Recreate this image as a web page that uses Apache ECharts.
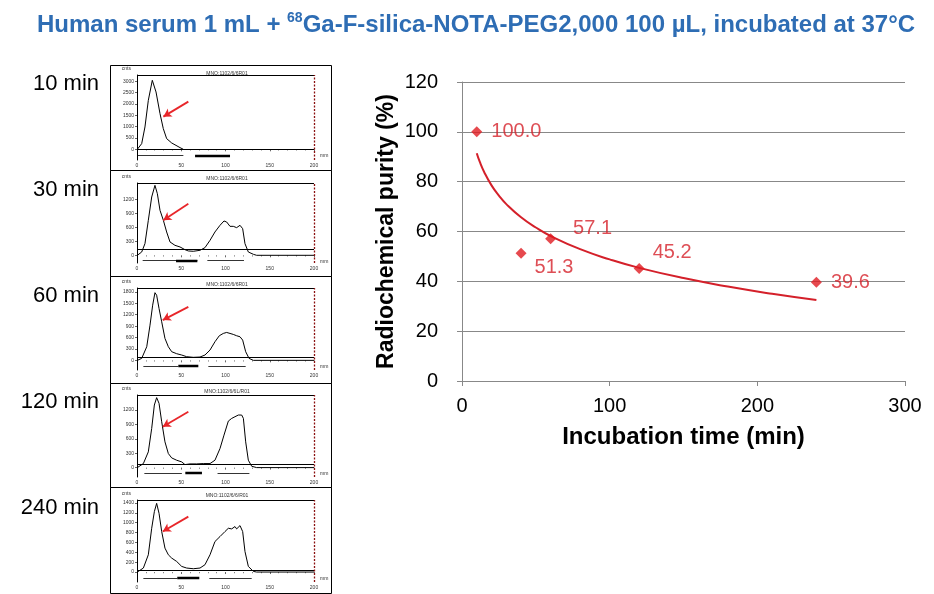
<!DOCTYPE html>
<html><head><meta charset="utf-8">
<script src="https://cdn.jsdelivr.net/npm/echarts@6/dist/echarts.min.js"></script>
<style>html,body{margin:0;padding:0;background:#fff}#c{width:934px;height:594px}</style>
</head><body><div id="c"></div>
<script>
// ---------- main chart data ----------
const incubationTimes = [10, 40, 60, 120, 240];
const purityValues = [100.0, 51.3, 57.1, 45.2, 39.6];
// logarithmic trend line
const trendTimes = [10, 12, 15, 20, 25, 30, 40, 50, 60, 80, 100, 120, 150, 180, 210, 240];
const trendValues = [91.4, 88.0, 83.9, 78.5, 74.4, 71.0, 65.7, 61.6, 58.2, 52.9, 48.8, 45.4, 41.3, 37.9, 35.0, 32.5];
const xTickValues = [0, 100, 200, 300];
const yTickValues = [0, 20, 40, 60, 80, 100, 120];

// ---------- chromatogram panels data ----------
const panelLabels = ['10 min', '30 min', '60 min', '120 min', '240 min'];
const panelTitles = ['MNO:1102/6/6R01', 'MNO:1102/6/6R01', 'MNO:1102/6/6R01', 'MNO:1102/6/6L/R01', 'MNO:1102/6/6/R01'];
const panelYTicks = [
  [0, 500, 1000, 1500, 2000, 2500, 3000],
  [0, 300, 600, 900, 1200],
  [0, 300, 600, 900, 1200, 1500, 1800],
  [0, 300, 600, 900, 1200],
  [0, 200, 400, 600, 800, 1000, 1200, 1400]
];
const panelXTicks = [0, 50, 100, 150, 200];

const chrom10X = [0.4, 5.3, 9.0, 12.8, 17.3, 21.5, 26.0, 29.7, 33.5, 39.2, 48.6, 52.4];
const chrom10Y = [0, 250, 985, 2160, 3044, 2530, 1574, 912, 471, 279, 74, 0];

const chrom30X = [0.4, 5.3, 9.0, 12.8, 16.6, 20.3, 23.0, 26.0, 29.8, 33.5, 37.3, 42.9, 48.6, 54.2, 58.0, 63.6, 71.2, 76.8, 82.5, 88.1, 93.8, 98.3, 101.3, 105.1, 108.8, 112.6, 116.4, 119.4, 122.0, 125.8, 131.5, 135.2, 200];
const chrom30Y = [0, 71, 250, 750, 1250, 1500, 1321, 964, 750, 500, 286, 214, 179, 121, 93, 86, 107, 164, 321, 500, 643, 736, 714, 621, 621, 593, 643, 571, 250, 71, 21, 0, 0];

const chrom60X = [0.4, 5.3, 11.0, 14.7, 17.7, 20.3, 22.2, 24.9, 27.9, 31.6, 35.4, 39.2, 44.8, 50.5, 56.1, 63.6, 71.2, 76.8, 82.5, 88.1, 93.0, 97.5, 101.3, 105.1, 108.8, 112.6, 116.4, 119.4, 122.8, 126.6, 131.5, 200];
const chrom60Y = [0, 52, 358, 926, 1451, 1780, 1713, 1363, 1014, 577, 358, 227, 175, 140, 96, 79, 87, 140, 271, 489, 647, 708, 734, 708, 682, 647, 620, 533, 227, 52, 0, 0];

const chrom120X = [0.4, 7.2, 12.8, 16.6, 19.6, 22.2, 24.9, 27.9, 31.6, 35.4, 39.2, 44.8, 50.5, 54.2, 59.9, 67.4, 74.9, 82.5, 88.1, 93.8, 98.3, 103.2, 107.0, 110.7, 114.5, 118.3, 120.2, 122.8, 125.8, 129.6, 135.2, 200];
const chrom120Y = [0, 84, 328, 817, 1305, 1459, 1340, 956, 537, 293, 202, 154, 119, 63, 77, 77, 84, 84, 154, 398, 677, 970, 1026, 1061, 1096, 1096, 1026, 537, 154, 28, 0, 0];

const chrom240X = [0.4, 7.2, 12.8, 16.6, 19.6, 22.2, 24.9, 27.9, 31.6, 35.4, 39.2, 44.8, 50.5, 56.1, 63.6, 71.2, 76.8, 82.5, 88.1, 93.8, 99.4, 103.2, 107.0, 110.7, 112.6, 116.4, 119.4, 122.0, 125.8, 131.5, 135.2, 200];
const chrom240Y = [0, 81, 350, 888, 1225, 1393, 1191, 821, 485, 350, 283, 215, 114, 81, 67, 81, 148, 350, 619, 720, 821, 888, 875, 922, 875, 942, 821, 417, 114, 13, 0, 0];

const chromX = [chrom10X, chrom30X, chrom60X, chrom120X, chrom240X];
const chromY = [chrom10Y, chrom30Y, chrom60Y, chrom120Y, chrom240Y];
const backgroundLevels = [0, 120, 87, 77, 40];
// integration regions (mm)
const roiThin = [
  [[0.4, 52.4]],
  [[6.4, 68.2], [79.5, 120.9]],
  [[7.2, 46.7], [80.6, 122.8]],
  [[8.3, 50.7], [91.0, 127.0]],
  [[7.2, 45.5], [81.7, 129.6]]
];
const roiThick = [
  [[65.6, 105.1]],
  [[44.1, 68.2]],
  [[46.7, 69.3]],
  [[54.6, 73.4]],
  [[45.5, 70.4]]
];

// ---------- layout / style (not data) ----------
const RED = '#E01B22';
const FONT = 'Liberation Sans, Arial, sans-serif';
const labelOffsets = [[9, 0], [8, 14], [17, -10], [8, -16], [9, 0]];
const panelFrames = [65, 170, 276, 383, 487];  // panel box tops
const panelGrid = [[75, 160], [183, 263], [288, 370], [395, 477], [500, 582]];
const panelRange = [[-472, 3278], [-165, 1550], [-254, 1903], [-196, 1514], [-202, 1461]];
const roiLevel = [-279, -107, -149, -112, -121];
const arrows = [
  [[58, 2103], [29.8, 1441]],
  [[58, 1107], [29.7, 750]],
  [[58, 1407], [29.1, 1058]],
  [[58, 1166], [29.1, 852]],
  [[58, 1124], [29.1, 821]]
];
const labelCentersY = [84, 190, 296, 402, 508];

const grids = [{ left: 462, right: 29, top: 82, bottom: 213 }];
const xAxes = [{
  gridIndex: 0, type: 'value', min: 0, max: 300, interval: 100,
  name: 'Incubation time (min)', nameLocation: 'middle', nameGap: 44,
  nameTextStyle: { fontFamily: FONT, fontSize: 24, fontWeight: 'bold', color: '#000' },
  axisLine: { show: true, lineStyle: { color: '#888', width: 1 } },
  axisTick: { show: true, length: 5, lineStyle: { color: '#888' } },
  axisLabel: { fontFamily: FONT, fontSize: 20, color: '#000', margin: 15, customValues: xTickValues },
  splitLine: { show: false }
}];
const yAxes = [{
  gridIndex: 0, type: 'value', min: 0, max: 120, interval: 20,
  name: 'Radiochemical purity (%)', nameLocation: 'middle', nameGap: 64,
  nameTextStyle: { fontFamily: FONT, fontSize: 23, fontWeight: 'bold', color: '#000' },
  axisLine: { show: true, lineStyle: { color: '#888', width: 1 } },
  axisTick: { show: true, length: 5, lineStyle: { color: '#888' } },
  axisLabel: { fontFamily: FONT, fontSize: 20, color: '#000', margin: 24, customValues: yTickValues },
  splitLine: { show: true, lineStyle: { color: '#888', width: 1 } }
}];
const series = [
  {
    type: 'line', xAxisIndex: 0, yAxisIndex: 0, smooth: true, showSymbol: false, silent: true,
    data: trendTimes.map((t, i) => [t, trendValues[i]]),
    lineStyle: { color: '#D4202A', width: 2 }, z: 3
  },
  {
    type: 'scatter', xAxisIndex: 0, yAxisIndex: 0, symbol: 'diamond', symbolSize: 11,
    itemStyle: { color: RED },
    data: incubationTimes.map((t, i) => ({
      value: [t, purityValues[i]],
      label: { offset: labelOffsets[i] }
    })),
    label: {
      show: true, position: 'right', distance: 0,
      formatter: p => p.value[1].toFixed(1),
      fontFamily: FONT, fontSize: 20, color: '#D6222A'
    },
    z: 4
  }
];

const graphics = [];

for (let k = 0; k < 5; k++) {
  const gi = k + 1;
  grids.push({ left: 137, width: 177, top: panelGrid[k][0], height: panelGrid[k][1] - panelGrid[k][0] });
  xAxes.push({
    gridIndex: gi, type: 'value', min: 0, max: 200, interval: 50,
    name: 'mm', nameLocation: 'end', nameGap: 6,
    nameTextStyle: { fontSize: 5, color: '#333', verticalAlign: 'top', padding: [4, 0, 0, 0], fontFamily: FONT },
    axisLine: { show: false },
    axisTick: { show: true, length: 2, lineStyle: { color: '#000', width: 0.6 } },
    minorTick: { show: true, splitNumber: 5, length: 1.2, lineStyle: { color: '#000', width: 0.5 } },
    axisLabel: { fontSize: 5, color: '#333', margin: 3, fontFamily: FONT, customValues: panelXTicks },
    splitLine: { show: false }
  });
  yAxes.push({
    gridIndex: gi, type: 'value', min: panelRange[k][0], max: panelRange[k][1],
    name: 'cnts', nameLocation: 'end', nameGap: 4,
    nameTextStyle: { fontSize: 5, color: '#333', align: 'right', padding: [0, 6, 0, 0], fontFamily: FONT },
    axisLine: { show: true, lineStyle: { color: '#000', width: 1 } },
    axisTick: { show: true, length: 2, customValues: panelYTicks[k], lineStyle: { color: '#000', width: 0.6 } },
    axisLabel: { fontSize: 5, color: '#333', margin: 3, fontFamily: FONT, customValues: panelYTicks[k], formatter: v => String(v) },
    splitLine: { show: false }
  });
  const xs = chromX[k], ys = chromY[k];
  series.push({
    type: 'line', xAxisIndex: gi, yAxisIndex: gi, showSymbol: false, silent: true,
    data: xs.map((x, i) => [x, ys[i]]),
    lineStyle: { color: '#000', width: 1 },
    markLine: {
      silent: true, symbol: ['none', 'none'], animation: false, label: { show: false },
      data: [
        [{ coord: [0, backgroundLevels[k]], lineStyle: { color: '#000', width: 1, type: 'solid' } }, { coord: [200, backgroundLevels[k]] }],
        [{ coord: [0, panelRange[k][1]], lineStyle: { color: '#000', width: 1, type: 'solid' } }, { coord: [200, panelRange[k][1]] }],
        [{ coord: [200, panelRange[k][0]], lineStyle: { color: '#8B1010', width: 1.3, type: [2, 1.5] } }, { coord: [200, panelRange[k][1]] }],
        [{ coord: arrows[k][0], lineStyle: { color: '#E8262A', width: 1.8, type: 'solid' } }, { coord: arrows[k][1], symbol: 'arrow', symbolSize: [7, 8] }]
      ]
    }
  });
  series.push({
    type: 'lines', coordinateSystem: 'cartesian2d', xAxisIndex: gi, yAxisIndex: gi, silent: true,
    data: roiThin[k].map(r => ({ coords: [[r[0], roiLevel[k]], [r[1], roiLevel[k]]] })),
    lineStyle: { color: '#000', width: 0.8, opacity: 1 }
  });
  series.push({
    type: 'lines', coordinateSystem: 'cartesian2d', xAxisIndex: gi, yAxisIndex: gi, silent: true,
    data: roiThick[k].map(r => ({ coords: [[r[0], roiLevel[k]], [r[1], roiLevel[k]]] })),
    lineStyle: { color: '#000', width: 2.4, opacity: 1 }
  });
  const top = panelFrames[k];
  const bottom = k < 4 ? panelFrames[k + 1] : 593;
  graphics.push({
    type: 'rect', shape: { x: 110.5, y: top + 0.5, width: 221, height: bottom - top },
    style: { fill: 'none', stroke: '#000', lineWidth: 1 }, silent: true
  });
  graphics.push({
    type: 'text', x: 227, y: top + 9,
    style: { text: panelTitles[k], fontSize: 5, fill: '#333', align: 'center', verticalAlign: 'middle', fontFamily: FONT }
  });
  graphics.push({
    type: 'text', x: 99, y: labelCentersY[k],
    style: { text: panelLabels[k], fontSize: 22, fill: '#000', align: 'right', verticalAlign: 'middle', fontFamily: FONT }
  });
}

const chart = echarts.init(document.getElementById('c'), null, { renderer: 'canvas' });
chart.setOption({
  animation: false,
  backgroundColor: '#fff',
  title: {
    left: 32, top: 2,
    text: '{t|Human serum 1 mL + }{s|68}{t|Ga-F-silica-NOTA-PEG2,000 100 µL, incubated at 37°C}',
    textStyle: {
      rich: {
        t: { fontFamily: FONT, fontSize: 24, fontWeight: 'bold', color: '#2E6DB4', lineHeight: 30, verticalAlign: 'bottom' },
        s: { fontFamily: FONT, fontSize: 14, fontWeight: 'bold', color: '#2E6DB4', lineHeight: 16, verticalAlign: 'top', padding: [4, 0, 0, 0] }
      }
    }
  },
  grid: grids,
  xAxis: xAxes,
  yAxis: yAxes,
  series: series,
  graphic: graphics
});
</script>
</body></html>
